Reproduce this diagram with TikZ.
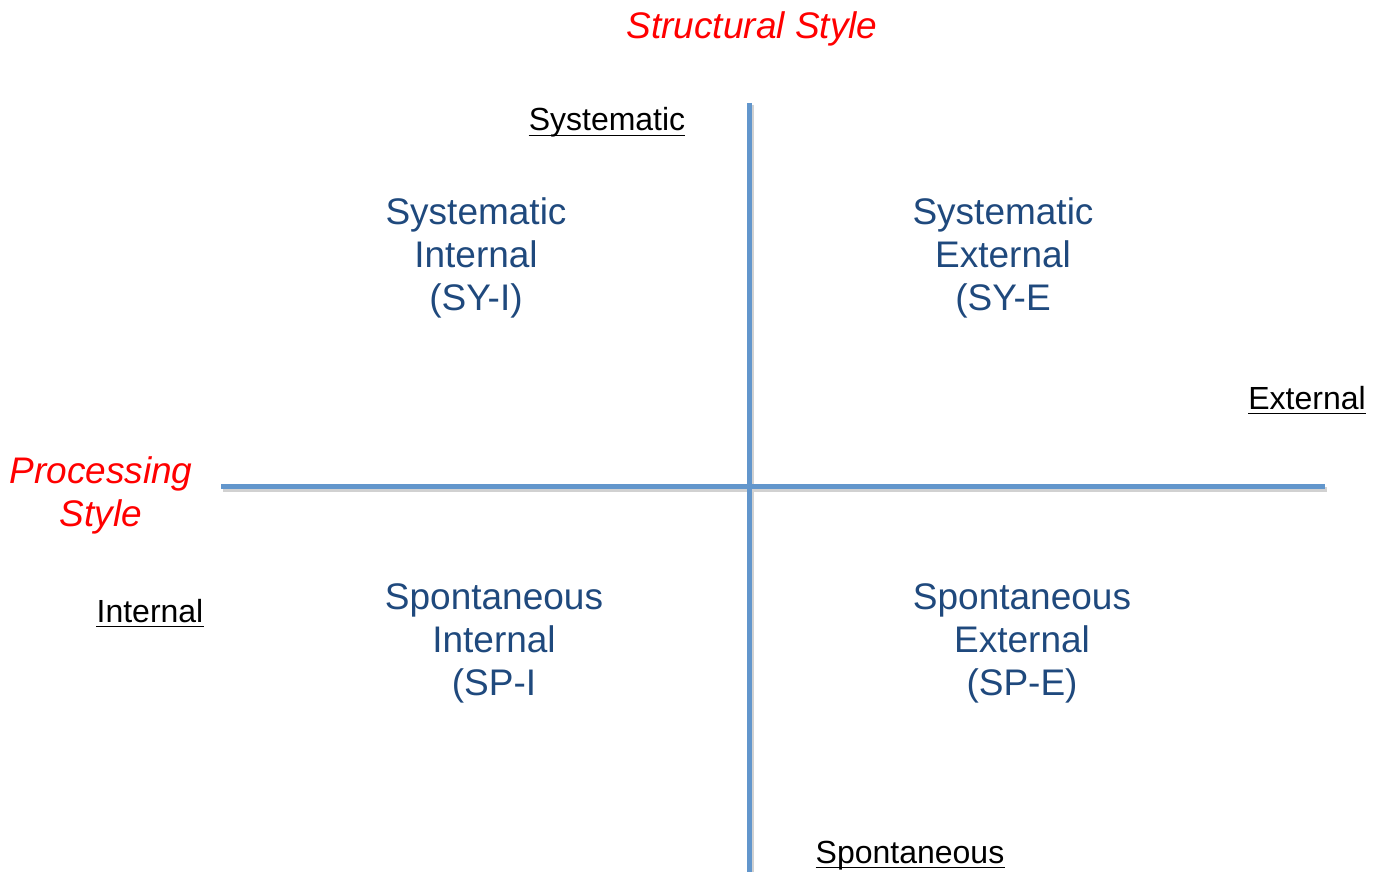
\documentclass[tikz,border=0pt]{standalone}
\usepackage{fontspec}
\setmainfont{Liberation Sans}
\definecolor{axisblue}{RGB}{98,150,204}
\definecolor{quadblue}{RGB}{31,73,125}
\begin{document}
\begin{tikzpicture}[x=1pt,y=-1pt,
  axis/.style={line width=5pt, draw=axisblue},
  axshadow/.style={line width=5pt, draw=black!18},
  quad/.style={text=quadblue, font=\fontsize{37}{43}\selectfont, align=center, inner sep=0pt, anchor=north},
  titletext/.style={text=red, font=\fontsize{37}{43}\selectfont\itshape, align=center, inner sep=0pt},
  pole/.style={text=black, font=\fontsize{32}{38}\selectfont, inner sep=0pt, anchor=base},
  uline/.style={line width=1.6pt, draw=black}]
\useasboundingbox (0,0) rectangle (1373,872);
% axes
\coordinate (top) at (749,103);
\coordinate (bottom) at (749,872);
\coordinate (left) at (221,486);
\coordinate (right) at (1325,486);
\draw[axshadow] ([shift={(2,3)}]left) -- ([shift={(2,3)}]right);
\draw[axshadow] ([shift={(2,2)}]top) -- ([shift={(2,2)}]bottom);
\draw[axis] (left) -- (right);
\draw[axis] (top) -- (bottom);
% titles
\node[titletext, anchor=base] (structural) at (752,39) {Structural Style};
\node[titletext, anchor=north] (processing) at (101,456) {Processing\\Style};
% poles
\node[pole] (sys) at (607,131) {Systematic};
\node[pole] (ext) at (1307,409) {External};
\node[pole] (int) at (150,622) {Internal};
\node[pole] (spo) at (910,863) {Spontaneous};
\foreach \n in {sys,ext,int,spo}{
  \draw[uline] ([yshift=-4.5pt]\n.base west) -- ([yshift=-4.5pt]\n.base east);
}
% quadrants
\node[quad] (syi) at (476,197) {Systematic\\Internal\\(SY-I)};
\node[quad] (sye) at (1003,197) {Systematic\\External\\(SY-E};
\node[quad] (spi) at (494,583) {Spontaneous\\Internal\\(SP-I};
\node[quad] (spe) at (1022,583) {Spontaneous\\External\\(SP-E)};
\end{tikzpicture}
\end{document}
